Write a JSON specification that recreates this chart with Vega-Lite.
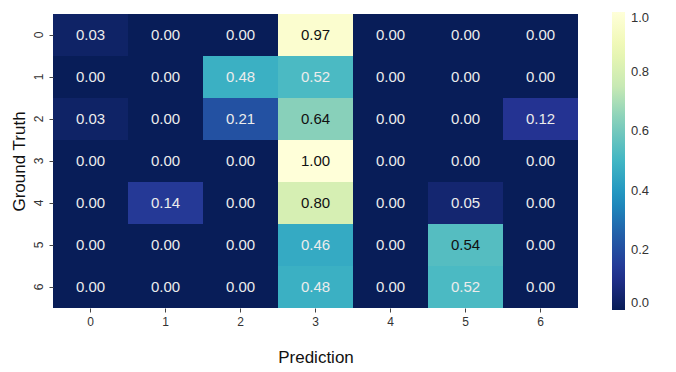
{
  "$schema": "https://vega.github.io/schema/vega-lite/v6.json",
  "autosize": "none",
  "padding": {"left": 53, "top": 14, "right": 98, "bottom": 64},
  "width": 525,
  "height": 294,
  "background": "white",
  "config": {
    "font": "Liberation Sans",
    "view": {"stroke": null},
    "axis": {"grid": false, "domain": false, "tickColor": "#444", "tickSize": 4, "labelColor": "#333", "labelFontSize": 12, "titleFontSize": 17, "titleFontWeight": "normal", "titleColor": "#111"}
  },
  "data": {"values": [
    {"t": 0, "p": 0, "v": 0.03}, {"t": 0, "p": 1, "v": 0.00}, {"t": 0, "p": 2, "v": 0.00}, {"t": 0, "p": 3, "v": 0.97}, {"t": 0, "p": 4, "v": 0.00}, {"t": 0, "p": 5, "v": 0.00}, {"t": 0, "p": 6, "v": 0.00},
    {"t": 1, "p": 0, "v": 0.00}, {"t": 1, "p": 1, "v": 0.00}, {"t": 1, "p": 2, "v": 0.48}, {"t": 1, "p": 3, "v": 0.52}, {"t": 1, "p": 4, "v": 0.00}, {"t": 1, "p": 5, "v": 0.00}, {"t": 1, "p": 6, "v": 0.00},
    {"t": 2, "p": 0, "v": 0.03}, {"t": 2, "p": 1, "v": 0.00}, {"t": 2, "p": 2, "v": 0.21}, {"t": 2, "p": 3, "v": 0.64}, {"t": 2, "p": 4, "v": 0.00}, {"t": 2, "p": 5, "v": 0.00}, {"t": 2, "p": 6, "v": 0.12},
    {"t": 3, "p": 0, "v": 0.00}, {"t": 3, "p": 1, "v": 0.00}, {"t": 3, "p": 2, "v": 0.00}, {"t": 3, "p": 3, "v": 1.00}, {"t": 3, "p": 4, "v": 0.00}, {"t": 3, "p": 5, "v": 0.00}, {"t": 3, "p": 6, "v": 0.00},
    {"t": 4, "p": 0, "v": 0.00}, {"t": 4, "p": 1, "v": 0.14}, {"t": 4, "p": 2, "v": 0.00}, {"t": 4, "p": 3, "v": 0.80}, {"t": 4, "p": 4, "v": 0.00}, {"t": 4, "p": 5, "v": 0.05}, {"t": 4, "p": 6, "v": 0.00},
    {"t": 5, "p": 0, "v": 0.00}, {"t": 5, "p": 1, "v": 0.00}, {"t": 5, "p": 2, "v": 0.00}, {"t": 5, "p": 3, "v": 0.46}, {"t": 5, "p": 4, "v": 0.00}, {"t": 5, "p": 5, "v": 0.54}, {"t": 5, "p": 6, "v": 0.00},
    {"t": 6, "p": 0, "v": 0.00}, {"t": 6, "p": 1, "v": 0.00}, {"t": 6, "p": 2, "v": 0.00}, {"t": 6, "p": 3, "v": 0.48}, {"t": 6, "p": 4, "v": 0.00}, {"t": 6, "p": 5, "v": 0.52}, {"t": 6, "p": 6, "v": 0.00}
  ]},
  "encoding": {
    "x": {"field": "p", "type": "ordinal", "title": "Prediction", "scale": {"paddingInner": 0, "paddingOuter": 0}, "axis": {"labelAngle": 0, "labelPadding": 4, "titlePadding": 22}},
    "y": {"field": "t", "type": "ordinal", "title": "Ground Truth", "scale": {"paddingInner": 0, "paddingOuter": 0}, "axis": {"labelAngle": -90, "labelAlign": "center", "labelBaseline": "bottom", "labelPadding": 4, "titlePadding": 4}}
  },
  "layer": [
    {
      "mark": {"type": "rect"},
      "encoding": {
        "color": {"field": "v", "type": "quantitative",
          "scale": {"domain": [0, 0.125, 0.25, 0.375, 0.5, 0.625, 0.75, 0.875, 1], "range": ["#081d58", "#253494", "#225ea8", "#1d91c0", "#41b6c4", "#7fcdbb", "#c7e9b4", "#edf8b1", "#ffffd9"], "interpolate": "rgb"},
          "legend": {"title": null, "orient": "none", "legendX": 559, "legendY": -2, "direction": "vertical", "gradientLength": 298, "gradientThickness": 13, "format": ".1f", "values": [0, 0.2, 0.4, 0.6, 0.8, 1.0], "labelFontSize": 13, "labelColor": "#333", "labelOffset": 6, "gradientStrokeWidth": 0}}
      }
    },
    {
      "mark": {"type": "text", "fontSize": 15},
      "encoding": {
        "text": {"field": "v", "type": "quantitative", "format": ".2f"},
        "color": {"condition": {"test": "datum.v > 0.53", "value": "#111"}, "value": "#ececec"}
      }
    }
  ]
}
